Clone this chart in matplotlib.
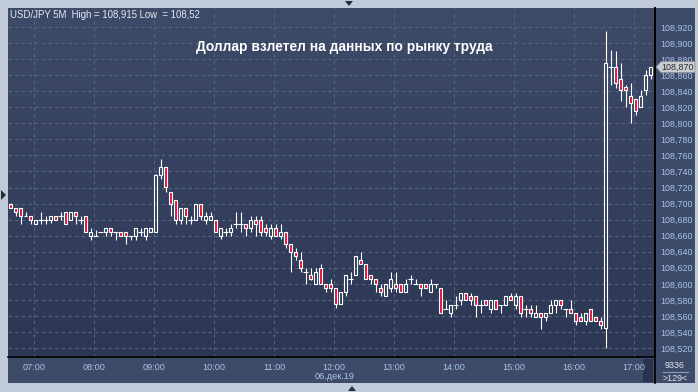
import matplotlib
matplotlib.use('Agg')
import matplotlib.pyplot as plt
import numpy as np
from matplotlib.patches import Rectangle, Polygon
from matplotlib.colors import LinearSegmentedColormap

# ---------------- data ----------------
# bar number (5-minute bars) relative to 07:00
bar_num = list(range(-5, 124))
opens = [108.700, 108.695, 108.695, 108.685, 108.684, 108.675, 108.680, 108.680, 108.680, 108.685,
         108.685, 108.690, 108.680, 108.690, 108.680, 108.684, 108.660, 108.660, 108.665, 108.665,
         108.670, 108.665, 108.665, 108.665, 108.660, 108.660, 108.665, 108.660, 108.665, 108.665,
         108.736, 108.746, 108.714, 108.705, 108.680, 108.695, 108.680, 108.680, 108.700, 108.680,
         108.680, 108.680, 108.660, 108.665, 108.665, 108.675, 108.675, 108.675, 108.670, 108.680,
         108.680, 108.670, 108.660, 108.670, 108.660, 108.665, 108.650, 108.640, 108.630, 108.615,
         108.611, 108.600, 108.620, 108.600, 108.600, 108.595, 108.575, 108.590, 108.606, 108.611,
         108.630, 108.625, 108.611, 108.606, 108.595, 108.585, 108.595, 108.600, 108.600, 108.590,
         108.606, 108.600, 108.600, 108.600, 108.590, 108.600, 108.595, 108.569, 108.564, 108.574,
         108.580, 108.589, 108.585, 108.585, 108.574, 108.580, 108.569, 108.580, 108.574, 108.574,
         108.585, 108.574, 108.585, 108.569, 108.569, 108.559, 108.564, 108.559, 108.564, 108.574,
         108.580, 108.569, 108.569, 108.564, 108.559, 108.554, 108.569, 108.559, 108.554, 108.545,
         108.870, 108.870, 108.855, 108.845, 108.834, 108.830, 108.820, 108.841, 108.860]
highs = [108.701, 108.695, 108.695, 108.690, 108.684, 108.679, 108.690, 108.684, 108.685, 108.685,
         108.690, 108.690, 108.690, 108.690, 108.684, 108.684, 108.669, 108.667, 108.665, 108.670,
         108.670, 108.665, 108.665, 108.665, 108.660, 108.670, 108.670, 108.670, 108.670, 108.737,
         108.755, 108.746, 108.714, 108.705, 108.695, 108.695, 108.684, 108.700, 108.700, 108.690,
         108.690, 108.680, 108.670, 108.670, 108.675, 108.690, 108.689, 108.675, 108.685, 108.685,
         108.685, 108.675, 108.675, 108.675, 108.675, 108.665, 108.650, 108.645, 108.640, 108.620,
         108.620, 108.620, 108.625, 108.600, 108.606, 108.595, 108.590, 108.611, 108.615, 108.635,
         108.640, 108.625, 108.611, 108.606, 108.600, 108.600, 108.615, 108.615, 108.600, 108.606,
         108.611, 108.606, 108.600, 108.600, 108.606, 108.600, 108.595, 108.580, 108.574, 108.585,
         108.589, 108.589, 108.589, 108.585, 108.580, 108.580, 108.580, 108.580, 108.574, 108.585,
         108.589, 108.589, 108.585, 108.574, 108.574, 108.574, 108.564, 108.564, 108.580, 108.580,
         108.580, 108.569, 108.580, 108.564, 108.564, 108.564, 108.569, 108.559, 108.559, 108.915,
         108.891, 108.890, 108.875, 108.848, 108.850, 108.830, 108.841, 108.866, 108.870]
lows = [108.694, 108.684, 108.675, 108.684, 108.675, 108.675, 108.675, 108.675, 108.676, 108.680,
        108.680, 108.675, 108.680, 108.675, 108.675, 108.665, 108.655, 108.660, 108.665, 108.660,
        108.660, 108.655, 108.660, 108.650, 108.655, 108.655, 108.660, 108.655, 108.665, 108.665,
        108.730, 108.714, 108.684, 108.675, 108.675, 108.675, 108.675, 108.680, 108.680, 108.675,
        108.680, 108.665, 108.656, 108.660, 108.660, 108.670, 108.665, 108.660, 108.665, 108.660,
        108.660, 108.660, 108.656, 108.660, 108.656, 108.645, 108.615, 108.630, 108.615, 108.600,
        108.605, 108.600, 108.600, 108.590, 108.590, 108.570, 108.575, 108.585, 108.600, 108.611,
        108.625, 108.606, 108.600, 108.590, 108.585, 108.585, 108.590, 108.590, 108.590, 108.590,
        108.600, 108.600, 108.585, 108.595, 108.590, 108.595, 108.564, 108.569, 108.559, 108.569,
        108.574, 108.580, 108.574, 108.559, 108.564, 108.574, 108.564, 108.569, 108.564, 108.574,
        108.580, 108.569, 108.559, 108.559, 108.559, 108.559, 108.544, 108.554, 108.564, 108.564,
        108.569, 108.559, 108.564, 108.549, 108.554, 108.549, 108.554, 108.554, 108.544, 108.520,
        108.848, 108.844, 108.828, 108.820, 108.800, 108.810, 108.820, 108.835, 108.855]
closes = [108.695, 108.690, 108.684, 108.684, 108.680, 108.679, 108.680, 108.680, 108.685, 108.680,
          108.685, 108.675, 108.690, 108.685, 108.680, 108.665, 108.665, 108.660, 108.665, 108.670,
          108.665, 108.665, 108.660, 108.660, 108.660, 108.670, 108.665, 108.670, 108.670, 108.736,
          108.746, 108.721, 108.700, 108.680, 108.695, 108.685, 108.680, 108.700, 108.685, 108.685,
          108.685, 108.665, 108.670, 108.665, 108.670, 108.675, 108.675, 108.670, 108.680, 108.675,
          108.665, 108.665, 108.670, 108.660, 108.665, 108.650, 108.640, 108.635, 108.620, 108.615,
          108.606, 108.615, 108.600, 108.595, 108.595, 108.575, 108.590, 108.611, 108.606, 108.635,
          108.625, 108.606, 108.606, 108.600, 108.590, 108.600, 108.606, 108.595, 108.590, 108.600,
          108.606, 108.600, 108.595, 108.595, 108.600, 108.600, 108.564, 108.569, 108.574, 108.574,
          108.589, 108.580, 108.580, 108.574, 108.574, 108.574, 108.580, 108.569, 108.574, 108.585,
          108.580, 108.585, 108.564, 108.569, 108.564, 108.564, 108.559, 108.564, 108.574, 108.580,
          108.574, 108.569, 108.564, 108.554, 108.554, 108.564, 108.554, 108.554, 108.549, 108.875,
          108.870, 108.850, 108.841, 108.841, 108.825, 108.815, 108.834, 108.860, 108.870]

hour_labels = ['07:00', '08:00', '09:00', '10:00', '11:00', '12:00',
               '13:00', '14:00', '15:00', '16:00', '17:00']
price_ticks = [108.52, 108.54, 108.56, 108.58, 108.60, 108.62, 108.64, 108.66, 108.68, 108.70,
               108.72, 108.74, 108.76, 108.78, 108.80, 108.82, 108.84, 108.86, 108.88, 108.90, 108.92]
symbol = 'USD/JPY 5M'
title = 'Доллар взлетел на данных по рынку труда'
date_label = '06.дек.19'
last_price = 108.870
volume_text = '9336'
count_text = '>129<'

# ---------------- figure ----------------
W, H = 698, 392
fig = plt.figure(figsize=(W / 100, H / 100), dpi=100, facecolor='#c0cad8')
plt.rcParams['font.family'] = ['Liberation Sans', 'DejaVu Sans']

# background decoration axes (pixel coordinates)
bg = fig.add_axes([0, 0, 1, 1], zorder=0)
bg.set_xlim(0, W)
bg.set_ylim(H, 0)
bg.axis('off')
panel_col = '#3e4b68'
bg.add_patch(Rectangle((8, 357), 687, 26, facecolor=panel_col, edgecolor='none'))
bg.add_patch(Rectangle((655, 8), 40, 375, facecolor=panel_col, edgecolor='none'))
bg.add_patch(Rectangle((643, 359), 10, 23, facecolor='#2a3450', edgecolor='none'))

# main chart axes
ax = fig.add_axes([8 / W, (H - 357) / H, 647 / W, 349 / H], zorder=1)
x_lo, x_hi = -5.5, 123.9
y_lo, y_hi = 108.5088, 108.9437
grad = np.linspace(1, 0, 256).reshape(-1, 1)
cmap = LinearSegmentedColormap.from_list('bgc', ['#2c3754', '#3d4a68'])
ax.imshow(grad, extent=[x_lo, x_hi, y_lo, y_hi], aspect='auto', cmap=cmap, zorder=0,
          origin='upper', interpolation='bilinear')
ax.set_xlim(x_lo, x_hi)
ax.set_ylim(y_lo, y_hi)

# grid
hour_pos = [12 * k - 0.25 for k in range(len(hour_labels))]
grid_col = '#56657f'
for yv in price_ticks:
    ax.axhline(yv, color=grid_col, lw=0.8, ls=(0, (3, 3)), zorder=1)
for xv in hour_pos:
    ax.axvline(xv, color=grid_col, lw=0.8, ls=(0, (3, 3)), zorder=1)

# candles
o = np.array(opens); h = np.array(highs); l = np.array(lows); c = np.array(closes)
xs = np.array(bar_num)
top = np.maximum(o, c)
bot = np.minimum(o, c)
ax.vlines(xs, top, h, color='white', lw=0.8, zorder=2)
ax.vlines(xs, l, bot, color='white', lw=0.8, zorder=2)
body = np.abs(c - o) > 0.0005
up = body & (c > o)
dn = body & (c < o)
ax.bar(xs[up], (c - o)[up], bottom=o[up], width=0.62, facecolor='none',
       edgecolor='white', lw=0.8, zorder=3)
ax.bar(xs[dn], (o - c)[dn], bottom=c[dn], width=0.62, facecolor='#e0123c',
       edgecolor='white', lw=0.8, zorder=3)
doji = ~body
ax.hlines(c[doji], xs[doji] - 0.42, xs[doji] + 0.42, color='white', lw=0.8, zorder=3)

# axes styling
for s in ['top', 'left']:
    ax.spines[s].set_visible(False)
ax.spines['right'].set_color('black')
ax.spines['bottom'].set_color('black')
ax.spines['right'].set_linewidth(1.2)
ax.spines['bottom'].set_linewidth(1.2)
ax.yaxis.tick_right()
ax.set_yticks(price_ticks)
ax.set_yticklabels([f'{v:.3f}'.replace('.', ',') for v in price_ticks])
ax.set_xticks(hour_pos)
ax.set_xticklabels(hour_labels)
ax.tick_params(axis='y', length=0, pad=3.5, labelsize=6.4, labelcolor='#a6c4ec')
ax.tick_params(axis='x', length=0, pad=4, labelsize=6.6, labelcolor='#a6c4ec')

# overlay texts and markers (pixel coordinates)
ov = fig.add_axes([0, 0, 1, 1], zorder=2)
ov.set_xlim(0, W)
ov.set_ylim(H, 0)
ov.axis('off')
ov.plot([655, 655], [8, 383], color='black', lw=1.2)
ov.text(10, 14.5, f'{symbol}  High = {max(highs):.3f}'.replace('.', ',') +
        f' Low  = {min(lows):.2f}'.replace('.', ','),
        color='#e4eaf4', fontsize=6.9, va='center', ha='left')
ov.text(344, 47, title, color='white', fontsize=9.9, fontweight='bold',
        ha='center', va='center')
ov.text(335, 376.5, date_label, color='#a6c4ec', fontsize=6.6, ha='center', va='center')
# last price flag (drawn over the axis labels, as in the terminal)
py = 27 + (108.920 - last_price) / 0.02 * 16.05
ov.add_patch(Polygon([[656, py], [661, py - 5.5], [695, py - 5.5], [695, py + 5.5], [661, py + 5.5]],
                     closed=True, facecolor='#c9ccd1', edgecolor='#8c8f95', lw=0.6))
ov.text(678, py, f'{last_price:.3f}'.replace('.', ','), color='#2a2a2a', fontsize=6.4,
        ha='center', va='center')
ov.text(675, 365.5, volume_text, color='#dfe6f2', fontsize=6.4, ha='center', va='center')
ov.plot([663, 688], [372, 372], color='#8f9bb0', lw=0.8)
ov.text(675, 378.5, count_text, color='#dfe6f2', fontsize=6.4, ha='center', va='center')
# navigation markers
mk = '#23303c'
ov.add_patch(Polygon([[345, 1], [353, 1], [349, 6]], closed=True, facecolor=mk, edgecolor='none'))
ov.add_patch(Polygon([[1, 190], [1, 200], [6, 195]], closed=True, facecolor=mk, edgecolor='none'))
ov.add_patch(Polygon([[348, 391], [356, 391], [352, 386]], closed=True, facecolor=mk, edgecolor='none'))

fig.savefig('out.png', dpi=100, facecolor=fig.get_facecolor())
